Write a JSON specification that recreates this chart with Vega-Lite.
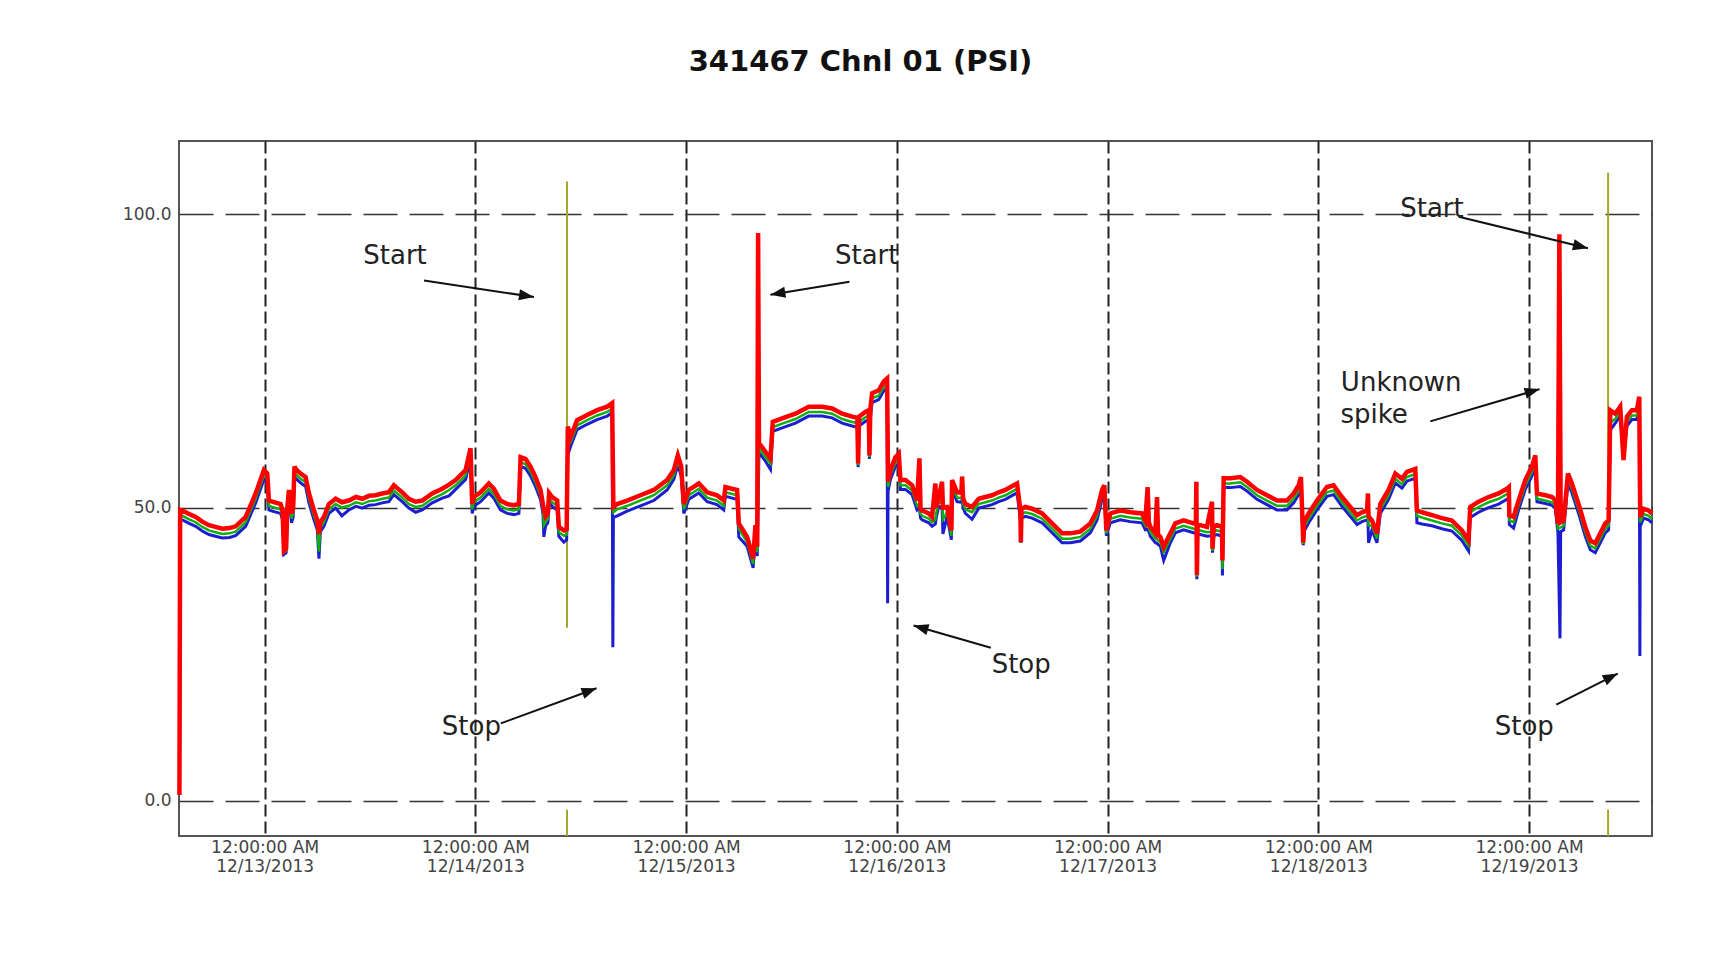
{
  "$schema": "https://vega.github.io/schema/vega-lite/v6.json",
  "autosize": {"type": "none"},
  "padding": {"left": 179, "top": 141, "right": 73, "bottom": 131},
  "width": 1473,
  "height": 695,
  "background": "white",
  "title": {"text": "341467 Chnl 01 (PSI)", "font": "DejaVu Sans", "fontSize": 29, "fontWeight": "bold", "color": "#111111", "anchor": "middle", "dx": -55, "offset": 64},
  "config": {"view": {"stroke": "#555555", "strokeWidth": 2}},
  "datasets": {
    "psi": [
      {"h": -9.7, "r": 1.0},
      {"h": -9.62, "r": 49.6, "g": 48.7, "b": 48.0},
      {"h": -9.37, "r": 49.5, "g": 48.6, "b": 47.9},
      {"h": -8.6, "r": 48.9, "g": 48.0, "b": 47.3},
      {"h": -7.85, "r": 48.4, "g": 47.5, "b": 46.8},
      {"h": -7.1, "r": 47.6, "g": 46.7, "b": 46.0},
      {"h": -6.34, "r": 47.0, "g": 46.1, "b": 45.4},
      {"h": -5.6, "r": 46.7, "g": 45.8, "b": 45.1},
      {"h": -4.82, "r": 46.4, "g": 45.5, "b": 44.8},
      {"h": -4.0, "r": 46.5, "g": 45.6, "b": 44.9},
      {"h": -3.3, "r": 46.8, "g": 45.9, "b": 45.2},
      {"h": -2.16, "r": 48.4, "g": 47.5, "b": 46.8},
      {"h": -1.02, "r": 52.4, "g": 51.5, "b": 50.8},
      {"h": -0.08, "r": 56.4, "g": 55.5, "b": 54.8},
      {"h": 0.3, "r": 55.8, "g": 54.9, "b": 54.2},
      {"h": 0.49, "r": 51.2, "g": 50.3, "b": 49.6},
      {"h": 0.87, "r": 51.0, "g": 50.1, "b": 49.4},
      {"h": 1.82, "r": 50.6, "g": 49.7, "b": 49.0},
      {"h": 2.05, "r": 49.5, "g": 48.6, "b": 47.9},
      {"h": 2.2, "r": 42.6, "g": 42.3, "b": 42.0},
      {"h": 2.45, "r": 43.0, "g": 42.6, "b": 42.3},
      {"h": 2.58, "r": 49.8, "g": 48.9, "b": 48.2},
      {"h": 2.77, "r": 53.0, "g": 52.1, "b": 51.4},
      {"h": 3.07, "r": 49.0, "g": 48.1, "b": 47.4},
      {"h": 3.25, "r": 50.0, "g": 49.1, "b": 48.4},
      {"h": 3.4, "r": 57.0, "g": 56.1, "b": 55.4},
      {"h": 3.53, "r": 56.6, "g": 55.7, "b": 55.0},
      {"h": 4.1, "r": 55.8, "g": 54.9, "b": 54.2},
      {"h": 4.67, "r": 55.2, "g": 54.3, "b": 53.6},
      {"h": 5.05, "r": 52.4, "g": 51.5, "b": 50.8},
      {"h": 5.62, "r": 49.5, "g": 48.6, "b": 47.9},
      {"h": 6.0, "r": 47.8, "g": 46.9, "b": 46.2},
      {"h": 6.19, "r": 45.5, "g": 42.5, "b": 41.3},
      {"h": 6.35, "r": 47.5, "g": 46.6, "b": 45.9},
      {"h": 6.75, "r": 48.4, "g": 47.5, "b": 46.8},
      {"h": 7.32, "r": 50.6, "g": 49.7, "b": 49.0},
      {"h": 8.09, "r": 51.5, "g": 50.6, "b": 49.9},
      {"h": 8.8, "r": 50.9, "g": 50.0, "b": 48.6},
      {"h": 9.6, "r": 51.2, "g": 50.3, "b": 49.6},
      {"h": 10.4, "r": 51.8, "g": 50.9, "b": 50.2},
      {"h": 11.12, "r": 51.5, "g": 50.6, "b": 49.9},
      {"h": 11.9, "r": 52.0, "g": 51.1, "b": 50.4},
      {"h": 12.64, "r": 52.1, "g": 51.2, "b": 50.5},
      {"h": 13.4, "r": 52.4, "g": 51.5, "b": 50.8},
      {"h": 14.15, "r": 52.6, "g": 51.7, "b": 51.0},
      {"h": 14.72, "r": 53.8, "g": 52.9, "b": 52.2},
      {"h": 15.67, "r": 52.6, "g": 51.7, "b": 51.0},
      {"h": 16.43, "r": 51.5, "g": 50.6, "b": 49.9},
      {"h": 17.2, "r": 51.0, "g": 50.1, "b": 49.2},
      {"h": 17.95, "r": 51.2, "g": 50.3, "b": 49.6},
      {"h": 19.09, "r": 52.4, "g": 51.5, "b": 50.8},
      {"h": 20.23, "r": 53.2, "g": 52.3, "b": 51.6},
      {"h": 21.0, "r": 53.9, "g": 53.0, "b": 52.0},
      {"h": 21.75, "r": 54.7, "g": 53.8, "b": 53.1},
      {"h": 22.89, "r": 56.4, "g": 55.5, "b": 54.8},
      {"h": 23.45, "r": 60.1, "g": 59.2, "b": 58.5},
      {"h": 23.64, "r": 50.6, "g": 49.7, "b": 49.0},
      {"h": 23.83, "r": 51.8, "g": 50.9, "b": 50.2},
      {"h": 24.59, "r": 52.6, "g": 51.7, "b": 51.0},
      {"h": 25.54, "r": 54.1, "g": 53.2, "b": 52.5},
      {"h": 26.11, "r": 53.2, "g": 52.3, "b": 51.6},
      {"h": 26.86, "r": 51.2, "g": 50.3, "b": 49.6},
      {"h": 27.62, "r": 50.6, "g": 49.7, "b": 49.0},
      {"h": 28.39, "r": 50.4, "g": 49.5, "b": 48.8},
      {"h": 28.96, "r": 50.6, "g": 49.7, "b": 49.0},
      {"h": 29.15, "r": 58.6, "g": 57.7, "b": 57.0},
      {"h": 29.71, "r": 58.3, "g": 57.4, "b": 56.7},
      {"h": 30.28, "r": 57.0, "g": 56.1, "b": 55.4},
      {"h": 30.85, "r": 55.2, "g": 54.3, "b": 53.6},
      {"h": 31.42, "r": 53.0, "g": 52.1, "b": 51.4},
      {"h": 31.7, "r": 50.5, "g": 49.6, "b": 48.9},
      {"h": 31.8, "r": 49.8, "g": 47.0, "b": 45.0},
      {"h": 32.0, "r": 48.5, "g": 47.6, "b": 46.9},
      {"h": 32.26, "r": 49.0, "g": 48.1, "b": 47.4},
      {"h": 32.4, "r": 52.5, "g": 51.6, "b": 50.9},
      {"h": 32.75, "r": 51.8, "g": 50.9, "b": 50.2},
      {"h": 33.32, "r": 51.2, "g": 50.3, "b": 49.6},
      {"h": 33.51, "r": 46.7, "g": 45.8, "b": 45.1},
      {"h": 34.08, "r": 46.1, "g": 45.2, "b": 44.1},
      {"h": 34.4, "r": 46.3, "g": 45.4, "b": 44.5},
      {"h": 34.53, "r": 63.8, "g": 60.5, "b": 59.0},
      {"h": 34.84, "r": 62.0, "g": 61.1, "b": 60.4},
      {"h": 35.59, "r": 64.9, "g": 64.0, "b": 63.3},
      {"h": 36.73, "r": 65.8, "g": 64.9, "b": 64.2},
      {"h": 37.87, "r": 66.6, "g": 65.7, "b": 65.0},
      {"h": 39.02, "r": 67.2, "g": 66.3, "b": 65.6},
      {"h": 39.58, "r": 67.8, "g": 66.9, "b": 66.2},
      {"h": 39.66, "b": 26.2},
      {"h": 39.72, "r": 50.1, "g": 49.2, "b": 48.3},
      {"h": 40.15, "r": 50.6, "g": 49.7, "b": 48.6},
      {"h": 41.29, "r": 51.2, "g": 50.3, "b": 49.4},
      {"h": 42.8, "r": 52.1, "g": 51.2, "b": 50.3},
      {"h": 44.32, "r": 53.0, "g": 52.1, "b": 51.2},
      {"h": 45.84, "r": 54.7, "g": 53.8, "b": 53.0},
      {"h": 46.6, "r": 56.4, "g": 55.5, "b": 54.8},
      {"h": 47.06, "r": 58.9, "g": 58.0, "b": 57.3},
      {"h": 47.44, "r": 57.0, "g": 56.1, "b": 55.4},
      {"h": 47.74, "r": 50.6, "g": 49.7, "b": 49.0},
      {"h": 48.31, "r": 53.0, "g": 52.1, "b": 51.4},
      {"h": 49.45, "r": 54.1, "g": 53.2, "b": 52.5},
      {"h": 50.4, "r": 52.6, "g": 51.7, "b": 51.0},
      {"h": 51.53, "r": 52.1, "g": 51.2, "b": 50.5},
      {"h": 52.29, "r": 51.2, "g": 50.3, "b": 49.6},
      {"h": 52.48, "r": 53.5, "g": 52.6, "b": 51.9},
      {"h": 53.81, "r": 53.0, "g": 52.1, "b": 51.4},
      {"h": 54.0, "r": 47.3, "g": 46.4, "b": 45.0},
      {"h": 54.95, "r": 45.0, "g": 44.1, "b": 43.4},
      {"h": 55.63, "r": 41.3, "g": 40.4, "b": 39.7},
      {"h": 55.9, "r": 47.0, "g": 46.1, "b": 45.4},
      {"h": 56.1, "r": 43.3, "g": 42.4, "b": 41.7},
      {"h": 56.2, "r": 96.8},
      {"h": 56.3, "r": 61.0, "g": 60.1, "b": 59.4},
      {"h": 57.04, "r": 59.5, "g": 58.6, "b": 57.9},
      {"h": 57.61, "r": 58.4, "g": 57.5, "b": 56.5},
      {"h": 57.87, "r": 64.6, "g": 63.7, "b": 63.0},
      {"h": 58.94, "r": 65.2, "g": 64.3, "b": 63.6},
      {"h": 60.45, "r": 66.0, "g": 65.1, "b": 64.4},
      {"h": 61.97, "r": 67.2, "g": 66.3, "b": 65.6},
      {"h": 63.49, "r": 67.2, "g": 66.3, "b": 65.6},
      {"h": 64.63, "r": 66.9, "g": 66.0, "b": 65.3},
      {"h": 65.77, "r": 66.0, "g": 65.1, "b": 64.4},
      {"h": 66.91, "r": 65.5, "g": 64.6, "b": 63.9},
      {"h": 67.5, "r": 65.3, "g": 64.4, "b": 63.7},
      {"h": 67.59, "r": 57.5, "g": 57.2, "b": 56.9},
      {"h": 67.7, "r": 65.5, "g": 64.6, "b": 63.9},
      {"h": 68.42, "r": 66.3, "g": 65.4, "b": 64.7},
      {"h": 68.8, "r": 66.6, "g": 65.7, "b": 65.0},
      {"h": 68.88, "r": 58.9, "g": 58.6, "b": 58.3},
      {"h": 68.98, "r": 66.8, "g": 65.9, "b": 65.2},
      {"h": 69.18, "r": 69.5, "g": 68.6, "b": 67.9},
      {"h": 69.94, "r": 70.0, "g": 69.1, "b": 68.4},
      {"h": 70.51, "r": 71.5, "g": 70.6, "b": 69.9},
      {"h": 70.89, "r": 72.0, "g": 71.1, "b": 70.4},
      {"h": 70.95, "b": 33.7},
      {"h": 71.0, "r": 54.4, "g": 53.5, "b": 52.8},
      {"h": 71.27, "r": 56.4, "g": 55.5, "b": 54.8},
      {"h": 71.84, "r": 58.6, "g": 57.7, "b": 57.0},
      {"h": 72.22, "r": 59.2, "g": 58.3, "b": 57.6},
      {"h": 72.41, "r": 54.7, "g": 53.8, "b": 53.1},
      {"h": 72.98, "r": 54.7, "g": 53.8, "b": 53.1},
      {"h": 73.74, "r": 53.8, "g": 52.9, "b": 52.2},
      {"h": 74.31, "r": 51.2, "g": 50.3, "b": 49.6},
      {"h": 74.57, "r": 58.4, "g": 50.6, "b": 49.9},
      {"h": 74.7, "r": 49.8, "g": 48.9, "b": 48.2},
      {"h": 74.88, "r": 49.5, "g": 48.6, "b": 47.9},
      {"h": 75.63, "r": 49.0, "g": 48.1, "b": 47.4},
      {"h": 76.01, "r": 48.4, "g": 47.5, "b": 46.8},
      {"h": 76.39, "r": 54.1, "g": 48.0, "b": 47.2},
      {"h": 76.5, "r": 50.0, "g": 49.1, "b": 48.4},
      {"h": 76.77, "r": 51.8, "g": 50.9, "b": 50.2},
      {"h": 77.15, "r": 54.4, "g": 50.8, "b": 50.1},
      {"h": 77.25, "r": 50.0, "g": 48.0, "b": 45.5},
      {"h": 77.72, "r": 50.1, "g": 49.2, "b": 48.5},
      {"h": 78.21, "r": 46.1, "g": 45.2, "b": 44.5},
      {"h": 78.29, "r": 54.7, "g": 53.8, "b": 53.1},
      {"h": 78.86, "r": 52.6, "g": 51.7, "b": 51.0},
      {"h": 79.35, "r": 52.5, "g": 51.6, "b": 50.9},
      {"h": 79.43, "r": 55.3, "g": 52.0, "b": 51.3},
      {"h": 79.55, "r": 51.5, "g": 50.6, "b": 49.9},
      {"h": 79.81, "r": 50.6, "g": 49.7, "b": 49.0},
      {"h": 80.57, "r": 50.1, "g": 49.2, "b": 48.0},
      {"h": 81.33, "r": 51.5, "g": 50.6, "b": 49.9},
      {"h": 82.08, "r": 51.8, "g": 50.9, "b": 50.2},
      {"h": 82.84, "r": 52.1, "g": 51.2, "b": 50.5},
      {"h": 83.6, "r": 52.6, "g": 51.7, "b": 51.0},
      {"h": 84.36, "r": 53.0, "g": 52.1, "b": 51.4},
      {"h": 85.31, "r": 53.8, "g": 52.9, "b": 52.2},
      {"h": 85.69, "r": 54.1, "g": 53.2, "b": 52.5},
      {"h": 86.07, "r": 49.5, "g": 48.6, "b": 47.9},
      {"h": 86.12, "r": 44.1, "g": 44.0, "b": 44.0},
      {"h": 86.2, "r": 49.8, "g": 48.9, "b": 48.2},
      {"h": 86.64, "r": 50.1, "g": 49.2, "b": 48.5},
      {"h": 87.4, "r": 49.8, "g": 48.9, "b": 48.2},
      {"h": 88.54, "r": 49.0, "g": 48.1, "b": 47.4},
      {"h": 89.68, "r": 47.3, "g": 46.4, "b": 45.7},
      {"h": 90.82, "r": 45.6, "g": 44.7, "b": 44.0},
      {"h": 91.76, "r": 45.6, "g": 44.7, "b": 44.0},
      {"h": 92.9, "r": 45.9, "g": 45.0, "b": 44.3},
      {"h": 94.04, "r": 47.3, "g": 46.4, "b": 45.7},
      {"h": 94.8, "r": 49.5, "g": 48.6, "b": 47.9},
      {"h": 95.37, "r": 53.0, "g": 52.1, "b": 51.4},
      {"h": 95.63, "r": 53.8, "g": 52.9, "b": 52.2},
      {"h": 95.86, "r": 46.1, "g": 45.6, "b": 45.2},
      {"h": 96.31, "r": 49.0, "g": 48.1, "b": 47.4},
      {"h": 97.45, "r": 49.5, "g": 48.6, "b": 47.9},
      {"h": 98.59, "r": 49.2, "g": 48.3, "b": 47.6},
      {"h": 99.92, "r": 49.0, "g": 48.1, "b": 47.4},
      {"h": 100.3, "r": 47.8, "g": 46.9, "b": 46.2},
      {"h": 100.56, "r": 53.5, "g": 47.0, "b": 46.3},
      {"h": 100.7, "r": 47.5, "g": 46.6, "b": 45.9},
      {"h": 100.87, "r": 46.7, "g": 45.8, "b": 45.1},
      {"h": 101.44, "r": 45.6, "g": 44.7, "b": 44.0},
      {"h": 101.63, "r": 51.8, "g": 44.6, "b": 43.9},
      {"h": 101.75, "r": 45.3, "g": 44.4, "b": 43.7},
      {"h": 102.01, "r": 45.0, "g": 44.1, "b": 43.4},
      {"h": 102.39, "r": 43.3, "g": 42.4, "b": 41.0},
      {"h": 103.15, "r": 45.6, "g": 44.7, "b": 44.0},
      {"h": 103.71, "r": 47.3, "g": 46.4, "b": 45.7},
      {"h": 104.66, "r": 47.8, "g": 46.9, "b": 46.2},
      {"h": 105.8, "r": 47.3, "g": 46.4, "b": 45.7},
      {"h": 106.05, "r": 47.2, "g": 46.3, "b": 45.6},
      {"h": 106.11, "r": 54.4, "g": 46.3, "b": 45.6},
      {"h": 106.17, "r": 38.5, "g": 38.2, "b": 37.8},
      {"h": 106.25, "r": 47.0, "g": 46.1, "b": 45.4},
      {"h": 106.56, "r": 47.0, "g": 46.1, "b": 45.4},
      {"h": 107.32, "r": 46.7, "g": 45.8, "b": 45.1},
      {"h": 107.89, "r": 51.0, "g": 45.9, "b": 45.2},
      {"h": 107.95, "r": 43.0, "g": 42.6, "b": 42.3},
      {"h": 108.1, "r": 46.8, "g": 45.9, "b": 45.2},
      {"h": 108.46, "r": 47.0, "g": 46.1, "b": 45.4},
      {"h": 109.03, "r": 46.7, "g": 45.8, "b": 45.1},
      {"h": 109.08, "r": 41.0, "g": 39.5, "b": 38.4},
      {"h": 109.22, "r": 55.0, "g": 54.1, "b": 53.4},
      {"h": 109.98, "r": 55.0, "g": 54.1, "b": 53.4},
      {"h": 111.12, "r": 55.2, "g": 54.3, "b": 53.6},
      {"h": 111.88, "r": 54.4, "g": 53.5, "b": 52.8},
      {"h": 113.01, "r": 53.0, "g": 52.1, "b": 51.4},
      {"h": 114.15, "r": 52.1, "g": 51.2, "b": 50.5},
      {"h": 115.29, "r": 51.2, "g": 50.3, "b": 49.6},
      {"h": 116.43, "r": 51.2, "g": 50.3, "b": 49.6},
      {"h": 117.19, "r": 52.4, "g": 51.5, "b": 50.8},
      {"h": 117.76, "r": 53.8, "g": 52.9, "b": 52.2},
      {"h": 118.02, "r": 55.2, "g": 54.3, "b": 53.6},
      {"h": 118.21, "r": 47.3, "g": 46.4, "b": 45.7},
      {"h": 118.28, "r": 44.0, "g": 43.8, "b": 43.6},
      {"h": 118.4, "r": 47.6, "g": 46.7, "b": 46.0},
      {"h": 118.9, "r": 49.0, "g": 48.1, "b": 47.4},
      {"h": 119.85, "r": 51.2, "g": 50.3, "b": 49.6},
      {"h": 120.98, "r": 53.5, "g": 52.6, "b": 51.9},
      {"h": 121.74, "r": 53.8, "g": 52.9, "b": 52.2},
      {"h": 122.69, "r": 51.8, "g": 50.9, "b": 50.2},
      {"h": 123.64, "r": 50.1, "g": 49.2, "b": 48.5},
      {"h": 124.4, "r": 48.7, "g": 47.8, "b": 47.1},
      {"h": 124.97, "r": 49.2, "g": 48.3, "b": 47.6},
      {"h": 125.55, "r": 49.5, "g": 48.6, "b": 47.9},
      {"h": 125.65, "r": 52.4, "g": 48.6, "b": 47.9},
      {"h": 125.72, "r": 48.5, "g": 47.0, "b": 44.0},
      {"h": 126.11, "r": 47.8, "g": 46.9, "b": 46.2},
      {"h": 126.68, "r": 45.6, "g": 44.7, "b": 44.0},
      {"h": 127.06, "r": 50.6, "g": 49.7, "b": 49.0},
      {"h": 128.0, "r": 53.0, "g": 52.1, "b": 51.4},
      {"h": 128.77, "r": 55.8, "g": 54.9, "b": 54.2},
      {"h": 129.52, "r": 54.9, "g": 54.0, "b": 53.3},
      {"h": 130.09, "r": 56.1, "g": 55.2, "b": 54.5},
      {"h": 130.66, "r": 56.4, "g": 55.5, "b": 54.8},
      {"h": 131.04, "r": 56.6, "g": 55.7, "b": 55.0},
      {"h": 131.23, "r": 49.5, "g": 48.6, "b": 47.4},
      {"h": 131.8, "r": 49.2, "g": 48.3, "b": 47.2},
      {"h": 132.94, "r": 48.7, "g": 47.8, "b": 46.9},
      {"h": 134.08, "r": 48.2, "g": 47.3, "b": 46.4},
      {"h": 135.21, "r": 47.8, "g": 46.9, "b": 46.0},
      {"h": 136.35, "r": 46.1, "g": 45.2, "b": 44.4},
      {"h": 137.11, "r": 44.4, "g": 43.5, "b": 42.6},
      {"h": 137.3, "r": 50.1, "g": 49.2, "b": 48.3},
      {"h": 138.25, "r": 51.0, "g": 50.1, "b": 49.2},
      {"h": 139.39, "r": 51.8, "g": 50.9, "b": 50.0},
      {"h": 140.53, "r": 52.4, "g": 51.5, "b": 50.6},
      {"h": 141.48, "r": 53.2, "g": 52.3, "b": 51.4},
      {"h": 141.7, "r": 53.5, "g": 52.6, "b": 51.7},
      {"h": 141.75, "r": 48.7, "g": 47.8, "b": 47.1},
      {"h": 142.24, "r": 48.4, "g": 47.5, "b": 46.5},
      {"h": 142.81, "r": 51.2, "g": 50.3, "b": 49.6},
      {"h": 143.57, "r": 54.7, "g": 53.8, "b": 53.1},
      {"h": 144.33, "r": 57.0, "g": 56.1, "b": 55.4},
      {"h": 144.71, "r": 58.9, "g": 58.0, "b": 57.3},
      {"h": 144.9, "r": 52.4, "g": 51.5, "b": 51.0},
      {"h": 145.85, "r": 52.1, "g": 51.2, "b": 50.7},
      {"h": 146.61, "r": 51.8, "g": 50.9, "b": 50.4},
      {"h": 146.99, "r": 51.2, "g": 50.3, "b": 49.8},
      {"h": 147.29, "r": 47.3, "g": 46.4, "b": 45.7},
      {"h": 147.45, "r": 96.6},
      {"h": 147.52, "b": 27.7},
      {"h": 147.6, "r": 47.5, "g": 46.6, "b": 45.9},
      {"h": 147.94, "r": 47.8, "g": 46.9, "b": 46.2},
      {"h": 148.43, "r": 55.8, "g": 54.9, "b": 54.2},
      {"h": 148.88, "r": 54.1, "g": 53.2, "b": 52.5},
      {"h": 149.64, "r": 50.6, "g": 49.7, "b": 49.0},
      {"h": 150.4, "r": 46.7, "g": 45.8, "b": 45.1},
      {"h": 150.97, "r": 44.4, "g": 43.5, "b": 42.8},
      {"h": 151.54, "r": 43.9, "g": 43.0, "b": 42.3},
      {"h": 152.11, "r": 45.6, "g": 44.7, "b": 44.0},
      {"h": 152.68, "r": 47.3, "g": 46.4, "b": 45.7},
      {"h": 153.06, "r": 47.8, "g": 46.9, "b": 46.2},
      {"h": 153.25, "r": 66.6, "g": 64.5, "b": 63.2},
      {"h": 153.82, "r": 66.0, "g": 65.1, "b": 64.4},
      {"h": 154.38, "r": 67.2, "g": 66.3, "b": 65.6},
      {"h": 154.76, "r": 58.1, "g": 58.5, "b": 58.8},
      {"h": 155.14, "r": 65.5, "g": 64.6, "b": 63.9},
      {"h": 155.71, "r": 66.6, "g": 65.7, "b": 65.0},
      {"h": 156.28, "r": 66.6, "g": 65.7, "b": 65.0},
      {"h": 156.55, "r": 68.9, "g": 68.0, "b": 67.3},
      {"h": 156.62, "b": 24.7},
      {"h": 156.66, "r": 48.4, "g": 47.5, "b": 46.8},
      {"h": 157.04, "r": 49.8, "g": 48.9, "b": 48.2},
      {"h": 157.61, "r": 49.5, "g": 48.6, "b": 47.9},
      {"h": 158.0, "r": 49.0, "g": 48.1, "b": 47.4}
    ],
    "spikes": [
      {"h": 34.44, "lo": 29.5, "hi": 105.6},
      {"h": 34.44, "lo": -6.0, "hi": -1.5},
      {"h": 153.0, "lo": 48.0, "hi": 107.1},
      {"h": 153.0, "lo": -6.0, "hi": -1.5}
    ],
    "arrows": [
      {"h1": 18.15, "v1": 88.7, "h2": 30.68, "v2": 85.9, "a": 98.5},
      {"h1": 66.6, "v1": 88.5, "h2": 57.6, "v2": 86.3, "a": 260.5},
      {"h1": 136.0, "v1": 99.6, "h2": 150.7, "v2": 94.2, "a": 103.9},
      {"h1": 26.9, "v1": 13.2, "h2": 37.8, "v2": 19.2, "a": 69.8},
      {"h1": 82.7, "v1": 26.1, "h2": 73.9, "v2": 29.9, "a": 286.0},
      {"h1": 147.1, "v1": 16.4, "h2": 154.1, "v2": 21.7, "a": 63.3},
      {"h1": 132.75, "v1": 64.7, "h2": 145.2, "v2": 70.2, "a": 73.6}
    ],
    "labels": [
      {"h": 14.85, "v": 92.9, "text": "Start"},
      {"h": 68.57, "v": 92.9, "text": "Start"},
      {"h": 132.94, "v": 100.9, "text": "Start"},
      {"h": 23.54, "v": 12.5, "text": "Stop"},
      {"h": 86.16, "v": 23.2, "text": "Stop"},
      {"h": 143.45, "v": 12.5, "text": "Stop"},
      {"h": 129.44, "v": 71.3, "text": "Unknown"},
      {"h": 126.36, "v": 65.8, "text": "spike"}
    ]
  },
  "layer": [
    {
      "data": {"name": "spikes"},
      "mark": {"type": "rule", "color": "#a6a62c", "strokeWidth": 2, "clip": true},
      "encoding": {
        "x": {
          "field": "h", "type": "quantitative",
          "scale": {"domain": [-9.75, 158], "nice": false, "zero": false},
          "axis": {
            "values": [0, 24, 48, 72, 96, 120, 144],
            "labelExpr": "['12:00:00 AM', '12/' + (13 + datum.value / 24) + '/2013']",
            "title": null, "grid": true, "gridDash": [12, 5], "gridColor": "#222222", "gridWidth": 2,
            "ticks": false, "domain": false, "labelFont": "DejaVu Sans", "labelFontSize": 17,
            "labelColor": "#444444", "labelPadding": 3, "labelLineHeight": 19, "labelBound": false, "labelFlush": false, "labelOverlap": false
          }
        },
        "y": {
          "field": "lo", "type": "quantitative",
          "scale": {"domain": [-6, 112.5], "nice": false, "zero": false},
          "axis": {
            "values": [0, 50, 100], "format": ".1f", "title": null, "grid": true,
            "gridDash": [34, 12], "gridColor": "#333333", "gridWidth": 1.5, "ticks": false, "domain": false,
            "labelFont": "DejaVu Sans", "labelFontSize": 17, "labelColor": "#444444", "labelPadding": 8
          }
        },
        "y2": {"field": "hi"}
      }
    },
    {
      "data": {"name": "psi"},
      "transform": [{"filter": "isValid(datum.b)"}],
      "mark": {"type": "line", "color": "#1c1cd0", "strokeWidth": 3, "invalid": "filter"},
      "encoding": {
        "x": {"field": "h", "type": "quantitative", "scale": {"domain": [-9.75, 158], "nice": false, "zero": false}},
        "y": {"field": "b", "type": "quantitative", "scale": {"domain": [-6, 112.5], "nice": false, "zero": false}}
      }
    },
    {
      "data": {"name": "psi"},
      "transform": [{"filter": "isValid(datum.g)"}],
      "mark": {"type": "line", "color": "#10b010", "strokeWidth": 2.5, "invalid": "filter"},
      "encoding": {
        "x": {"field": "h", "type": "quantitative", "scale": {"domain": [-9.75, 158], "nice": false, "zero": false}},
        "y": {"field": "g", "type": "quantitative", "scale": {"domain": [-6, 112.5], "nice": false, "zero": false}}
      }
    },
    {
      "data": {"name": "psi"},
      "transform": [{"filter": "isValid(datum.r)"}],
      "mark": {"type": "line", "color": "#ff0000", "strokeWidth": 4.5, "invalid": "filter"},
      "encoding": {
        "x": {"field": "h", "type": "quantitative", "scale": {"domain": [-9.75, 158], "nice": false, "zero": false}},
        "y": {"field": "r", "type": "quantitative", "scale": {"domain": [-6, 112.5], "nice": false, "zero": false}}
      }
    },
    {
      "data": {"name": "arrows"},
      "mark": {"type": "rule", "color": "#111111", "strokeWidth": 2},
      "encoding": {
        "x": {"field": "h1", "type": "quantitative"},
        "y": {"field": "v1", "type": "quantitative"},
        "x2": {"field": "h2"},
        "y2": {"field": "v2"}
      }
    },
    {
      "data": {"name": "arrows"},
      "mark": {"type": "point", "shape": "M0,0L0.75,2L-0.75,2Z", "size": 225, "filled": true, "color": "#111111", "opacity": 1, "strokeWidth": 0},
      "encoding": {
        "x": {"field": "h2", "type": "quantitative"},
        "y": {"field": "v2", "type": "quantitative"},
        "angle": {"field": "a", "type": "quantitative", "scale": null}
      }
    },
    {
      "data": {"name": "labels"},
      "mark": {"type": "text", "font": "DejaVu Sans", "fontSize": 26, "color": "#222222", "align": "center", "baseline": "middle"},
      "encoding": {
        "x": {"field": "h", "type": "quantitative"},
        "y": {"field": "v", "type": "quantitative"},
        "text": {"field": "text"}
      }
    }
  ]
}
